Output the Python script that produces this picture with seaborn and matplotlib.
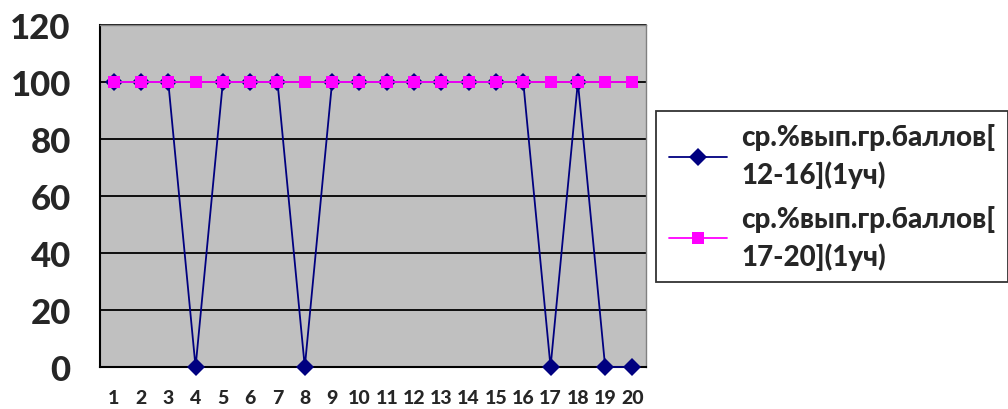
import pandas as pd
import matplotlib.pyplot as plt
import seaborn as sns

# categories and series values
categories = [str(i) for i in range(1, 21)]
series1_name = "ср.%вып.гр.баллов[\n12-16](1уч)"
series2_name = "ср.%вып.гр.баллов[\n17-20](1уч)"
series1 = [100, 100, 100, 0, 100, 100, 100, 0, 100, 100,
           100, 100, 100, 100, 100, 100, 0, 100, 0, 0]
series2 = [100] * 20
y_ticks = [0, 20, 40, 60, 80, 100, 120]

df = pd.DataFrame({
    "pos": list(range(len(categories))) * 2,
    "value": series1 + series2,
    "series": [series1_name] * len(series1) + [series2_name] * len(series2),
})

sns.set_style("white")
plt.rcParams['font.family'] = ['Lato', 'DejaVu Sans']
W = 900

fig = plt.figure(figsize=(10.08, 4.10), dpi=100)
ax = fig.add_axes([0.0992, 0.1024, 0.5418, 0.8342])
ax.set_facecolor("#C0C0C0")

# gridlines
for y in y_ticks:
    ax.axhline(y, color="black", lw=1.3, zorder=1)

sns.lineplot(data=df, x="pos", y="value", hue="series", style="series",
             markers={series1_name: "D", series2_name: "s"}, dashes=False,
             palette={series1_name: "#000080", series2_name: "#FF00FF"},
             linewidth=1.3, markersize=9, markeredgewidth=0, ax=ax,
             zorder=3)
for ln in ax.lines:
    ln.set_clip_on(False)

ax.set_xlim(-0.5, len(categories) - 0.5)
ax.set_ylim(0, 120)
ax.set_yticks(y_ticks)
ax.set_yticklabels([str(v) for v in y_ticks], fontsize=25, fontweight=W)
ax.set_xticks(range(len(categories)))
ax.set_xticklabels(categories, fontsize=14, fontweight=W)
ax.tick_params(axis="x", length=0, pad=16)
ax.set_xticks([i + 0.5 for i in range(len(categories) - 1)], minor=True)
ax.tick_params(axis="x", which="minor", direction="in", length=5, width=1.3, color="black")
ax.tick_params(axis="y", direction="out", length=9, width=1.3, color="black", pad=12)
ax.set_xlabel("")
ax.set_ylabel("")

for side in ["left", "bottom"]:
    ax.spines[side].set_color("black")
    ax.spines[side].set_linewidth(1.5)
ax.spines["top"].set_color("#808080")
ax.spines["right"].set_color("#808080")
ax.spines["top"].set_linewidth(1.0)
ax.spines["right"].set_linewidth(1.0)

handles, labels = ax.get_legend_handles_labels()
ax.get_legend().remove()
leg = fig.legend(handles, labels, loc="upper left", bbox_to_anchor=(0.651, 0.727),
                 frameon=True, fancybox=False, handlelength=2.1,
                 borderpad=0.45, labelspacing=0.6, handletextpad=0.5,
                 borderaxespad=0, prop={"weight": W, "size": 20})
for t in leg.get_texts():
    t.set_linespacing(1.45)
leg.get_frame().set_edgecolor("black")
leg.get_frame().set_linewidth(1.3)

fig.savefig("out.png", dpi=100)
